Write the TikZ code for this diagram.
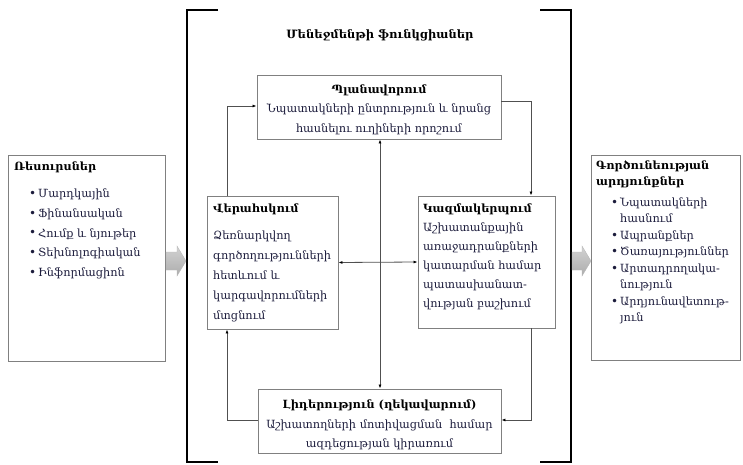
\documentclass[tikz,border=0pt]{standalone}
\usepackage{fontspec}
\setmainfont{DejaVu Serif}
\usetikzlibrary{arrows.meta}
\definecolor{boxgray}{RGB}{128,128,128}
\definecolor{linegray}{RGB}{80,80,80}
\definecolor{bodyink}{RGB}{28,28,60}
\tikzset{
  box/.style={draw=boxgray, line width=0.9pt, rectangle, inner sep=0pt},
  conn/.style={draw=linegray, line width=0.8pt, arrows={-Latex[length=4pt,width=3pt,black]}},
  dconn/.style={draw=linegray, line width=0.8pt, arrows={Latex[length=4pt,width=3pt,black]-Latex[length=4pt,width=3pt,black]}},
  bracket/.style={draw=black, line width=2.6pt, line cap=butt, line join=miter},
  txt/.style={inner sep=0pt, align=left, anchor=north west, text=bodyink},
  ctxt/.style={inner sep=0pt, align=center, anchor=north, text=bodyink},
  blockarrow/.style={draw=gray!55, line width=0.4pt, top color=gray!35, middle color=gray!12, bottom color=gray!65}
}
\newcommand{\bul}{\makebox[9pt][l]{\fontsize{12}{12}\selectfont\raisebox{0.1pt}{•}}}
\newcommand{\cont}{\hspace*{9pt}}
\begin{document}
\begin{tikzpicture}[x=1pt,y=-1pt]
\useasboundingbox (0,0) rectangle (743,465);

% outer bracket around the management functions
\draw[bracket] (218,10) -- (187,10) -- (187,462) -- (218,462);
\draw[bracket] (540,10) -- (571,10) -- (571,462) -- (540,462);

\node[inner sep=0pt, font=\bfseries\fontsize{11.5}{12}\selectfont] (title) at (380,35) {Մենեջմենթի ֆունկցիաներ};

% boxes
\node[box, minimum width=157pt, minimum height=206pt] (res) at (86.5,258) {};
\node[box, minimum width=149pt, minimum height=205pt] (out) at (665.5,257.5) {};
\node[box, minimum width=244pt, minimum height=64pt] (plan) at (379,107) {};
\node[box, minimum width=131pt, minimum height=133pt] (ctrl) at (272.5,262.5) {};
\node[box, minimum width=137pt, minimum height=132pt] (org) at (486.5,262) {};
\node[box, minimum width=243pt, minimum height=64pt] (lead) at (379.5,421) {};

% block arrows in and out
\shade[blockarrow] (166,252) -- (177,252) -- (177,246) -- (186,261) -- (177,276) -- (177,270) -- (166,270) -- cycle;
\shade[blockarrow] (572,252) -- (582,252) -- (582,246) -- (591,261) -- (582,276) -- (582,270) -- (572,270) -- cycle;

% resources
\node[txt, font=\fontsize{11.3}{19.7}\selectfont] (restxt) at (14,162) {%
  {\bfseries\color{black}Ռեսուրսներ}\\[7pt]
  \hspace*{15pt}\bul Մարդկային\\
  \hspace*{15pt}\bul Ֆինանսական\\
  \hspace*{15pt}\bul Հումք և նյութեր\\
  \hspace*{15pt}\bul Տեխնոլոգիական\\
  \hspace*{15pt}\bul Ինֆորմացիոն};

% results
\node[txt, font=\fontsize{11.3}{16.5}\selectfont] (outtxt) at (596,160) {%
  {\bfseries\color{black}Գործունեության}\\
  {\bfseries\color{black}արդյունքներ}\\[4pt]
  \hspace*{15pt}\bul Նպատակների\\
  \hspace*{15pt}\cont հասնում\\
  \hspace*{15pt}\bul Ապրանքներ\\
  \hspace*{15pt}\bul Ծառայություններ\\
  \hspace*{15pt}\bul Արտադրողակա-\\
  \hspace*{15pt}\cont նություն\\
  \hspace*{15pt}\bul Արդյունավետութ-\\
  \hspace*{15pt}\cont յուն};

% planning
\node[ctxt, font=\fontsize{11.3}{19.5}\selectfont] (plantxt) at (379,84.5) {%
  {\bfseries\color{black}Պլանավորում}\\
  Նպատակների ընտրություն և նրանց\\
  հասնելու ուղիների որոշում};

% control
\node[txt, font=\fontsize{11.3}{20}\selectfont] (ctrltxt) at (213,204) {%
  {\bfseries\color{black}Վերահսկում}\\[7pt]
  Ձեռնարկվող\\
  գործողությունների\\
  հետևում և\\
  կարգավորումների\\
  մտցնում};

% organising
\node[txt, font=\fontsize{11.3}{19}\selectfont] (orgtxt) at (423,204) {%
  {\bfseries\color{black}Կազմակերպում}\\
  Աշխատանքային\\
  առաջադրանքների\\
  կատարման համար\\
  պատասխանատ-\\
  վության բաշխում};

% leadership
\node[ctxt, font=\fontsize{11.3}{19.5}\selectfont] (leadtxt) at (379.5,400) {%
  {\bfseries\color{black}Լիդերություն (ղեկավարում)}\\
  Աշխատողների մոտիվացման \ համար\\
  ազդեցության կիրառում};

% connectors between the four functions
\draw[conn] ([yshift=6]plan.east) -| ([xshift=44.5]org.north);
\draw[conn] ([xshift=-45.5]ctrl.north) |- ([yshift=1]plan.west);
\draw[dconn] ([xshift=1]plan.south) -- ([xshift=0.5]lead.north);
\draw[dconn] (ctrl.east) -- (org.west);
\draw[conn] ([xshift=44.5]org.south) |- ([yshift=1]lead.east);
\draw[conn] ([yshift=1]lead.west) -| ([xshift=-45.5]ctrl.south);
\end{tikzpicture}
\end{document}
